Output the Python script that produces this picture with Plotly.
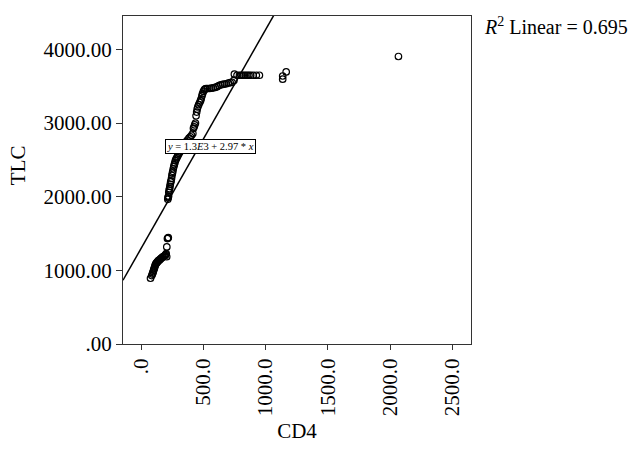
import plotly.graph_objects as go

# Data (CD4 vs TLC)
cd4 = [75, 85, 90, 93, 97, 100, 103, 107, 110, 113, 117, 120, 125, 130, 135, 140, 147, 152,
       158, 163, 170, 175, 182, 188, 193, 198, 201, 205, 206, 211, 215, 218,
       214, 216, 218, 220, 222, 225, 228, 231, 234, 237, 240, 244, 247, 251, 254, 258, 262,
       266, 270, 275, 280, 286, 292, 298, 305, 312, 320, 330, 340, 350, 360, 372, 384, 395,
       405, 415, 420, 425, 430, 436, 441, 446, 450, 455, 462, 470, 477, 482, 488, 493, 500,
       508, 515, 522, 535, 550, 565, 580, 595, 610, 625, 640, 655, 670, 685, 700, 715, 730,
       745, 749, 770, 790, 805, 820, 835, 850, 865, 880, 900, 925, 950,
       1137, 1137, 1165, 2067]
tlc = [893, 930, 950, 965, 985, 1000, 1020, 1035, 1055, 1070, 1085, 1095, 1105, 1115, 1125,
       1135, 1140, 1150, 1160, 1168, 1178, 1185, 1192, 1198, 1205, 1215, 1228, 1185, 1318,
       1432, 1440, 1445,
       1965, 1985, 2000, 2010, 2060, 2090, 2110, 2140, 2170, 2200, 2215, 2250, 2290, 2320,
       2345, 2380, 2410, 2435, 2460, 2490, 2510, 2530, 2550, 2570, 2590, 2610, 2630, 2660,
       2690, 2720, 2745, 2770, 2795, 2815, 2835, 2860, 2930, 2950, 2975, 3000, 3100, 3150,
       3190, 3220, 3250, 3280, 3305, 3330, 3370, 3400, 3430, 3455, 3465, 3470, 3470, 3470,
       3475, 3480, 3485, 3495, 3510, 3520, 3525, 3530, 3535, 3545, 3550, 3555, 3580, 3665,
       3650, 3650, 3650, 3650, 3650, 3650, 3650, 3650, 3650, 3650, 3650,
       3640, 3597, 3695, 3905]

fit_intercept = 1300
fit_slope = 2.97
r_squared = 0.695

x_ticks = [0, 500, 1000, 1500, 2000, 2500]
x_tick_labels = [".0", "500.0", "1000.0", "1500.0", "2000.0", "2500.0"]
y_ticks = [0, 1000, 2000, 3000, 4000]
y_tick_labels = [".00", "1000.00", "2000.00", "3000.00", "4000.00"]

x_range = [-146, 2650]
y_range = [0, 4455]

FONT = "Liberation Serif, Times New Roman, serif"

fig = go.Figure()

line_x = [x_range[0], x_range[1]]
line_y = [fit_intercept + fit_slope * v for v in line_x]
fig.add_trace(go.Scatter(x=line_x, y=line_y, mode="lines",
                         line=dict(color="black", width=1.5),
                         hoverinfo="skip", showlegend=False))

fig.add_trace(go.Scatter(x=cd4, y=tlc, mode="markers",
                         marker=dict(symbol="circle-open", size=6.5,
                                     color="black", line=dict(width=1.2)),
                         showlegend=False))

fig.add_annotation(x=560, y=2678, xref="x", yref="y",
                   text="<i>y</i> = 1.3<i>E</i>3 + 2.97 * <i>x</i>",
                   showarrow=False, bgcolor="white", bordercolor="black",
                   borderwidth=1, borderpad=1,
                   font=dict(family=FONT, size=10.5, color="black"))

plot_w = 635 - 123 - 164
plot_h = 451 - 16 - 103
fig.add_annotation(x=(482 - 123) / plot_w, y=1 - (26 - 16) / plot_h,
                   xref="paper", yref="paper",
                   text=f"<i>R</i><sup>2</sup> Linear = {r_squared}",
                   showarrow=False, xanchor="left", yanchor="middle",
                   font=dict(family=FONT, size=20, color="black"))

# y-axis title placed as in the reference (slightly above the plot centre)
fig.add_annotation(x=(18 - 123) / plot_w, y=1 - (167 - 16) / plot_h,
                   xref="paper", yref="paper", text="TLC", textangle=-90,
                   showarrow=False, xanchor="center", yanchor="middle",
                   font=dict(family=FONT, size=21, color="black"))

fig.update_layout(
    width=635, height=451,
    margin=dict(l=123, r=164, t=16, b=103),
    paper_bgcolor="white", plot_bgcolor="white",
    font=dict(family=FONT, size=20, color="black"),
)

fig.update_xaxes(range=x_range, tickvals=x_ticks, ticktext=x_tick_labels,
                 tickangle=-90, ticks="outside", ticklen=5, tickwidth=1,
                 tickcolor="#333", showgrid=False, zeroline=False,
                 showline=True, linecolor="#333", linewidth=1.2, mirror=True,
                 title=dict(text="CD4", font=dict(family=FONT, size=21), standoff=8),
                 tickfont=dict(family=FONT, size=21))
fig.update_yaxes(range=y_range, tickvals=y_ticks, ticktext=y_tick_labels,
                 ticks="outside", ticklen=6, tickwidth=1, tickcolor="#333",
                 showgrid=False, zeroline=False,
                 showline=True, linecolor="#333", linewidth=1.2, mirror=True,
                 tickfont=dict(family=FONT, size=21))

fig.write_html("out.html")
